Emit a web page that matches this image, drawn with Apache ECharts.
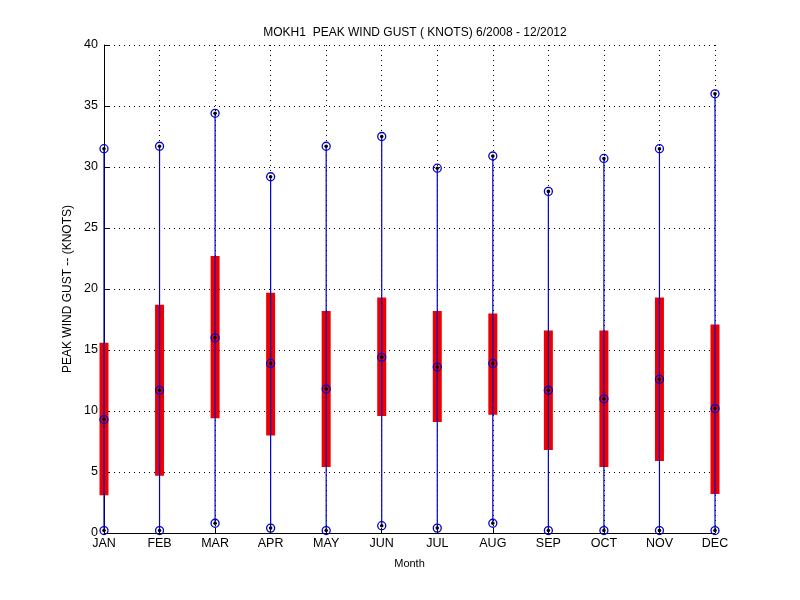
<!DOCTYPE html>
<html>
<head>
<meta charset="utf-8">
<script src="https://cdn.jsdelivr.net/npm/echarts@6/dist/echarts.min.js"></script>
<style>
  html, body { margin: 0; padding: 0; background: #fff; }
  #main { width: 800px; height: 600px; }
</style>
</head>
<body>
<div id="main"></div>
<script>
// monthly peak wind gust stats, knots
var months = ['JAN', 'FEB', 'MAR', 'APR', 'MAY', 'JUN', 'JUL', 'AUG', 'SEP', 'OCT', 'NOV', 'DEC'];
var gustMin = [0.2, 0.2, 0.8, 0.4, 0.2, 0.6, 0.4, 0.8, 0.2, 0.2, 0.2, 0.2];
var gustQ1 = [3.1, 4.7, 9.4, 8.0, 5.4, 9.6, 9.1, 9.7, 6.8, 5.4, 5.9, 3.2];
var gustMedian = [9.3, 11.7, 16.0, 13.9, 11.8, 14.4, 13.6, 13.9, 11.7, 11.0, 12.6, 10.2];
var gustQ3 = [15.6, 18.7, 22.7, 19.7, 18.2, 19.3, 18.2, 18.0, 16.6, 16.6, 19.3, 17.1];
var gustMax = [31.5, 31.7, 34.4, 29.2, 31.7, 32.5, 29.9, 30.9, 28.0, 30.7, 31.5, 36.0];
var yTicks = [0, 5, 10, 15, 20, 25, 30, 35, 40];

var boxData = months.map(function (m, i) {
    return [i, gustMin[i], gustQ1[i], gustMedian[i], gustQ3[i], gustMax[i]];
});

function marker(p) {
    return [
        { type: 'circle', shape: { cx: p[0], cy: p[1], r: 4 },
          style: { fill: 'none', stroke: '#0000cc', lineWidth: 1.3 } },
        { type: 'circle', shape: { cx: p[0], cy: p[1], r: 1.8 },
          style: { fill: '#000000' } }
    ];
}

function renderBox(params, api) {
    var x = api.value(0);
    var pMin = api.coord([x, api.value(1)]);
    var pQ1 = api.coord([x, api.value(2)]);
    var pMed = api.coord([x, api.value(3)]);
    var pQ3 = api.coord([x, api.value(4)]);
    var pMax = api.coord([x, api.value(5)]);
    var w = 9;
    var children = [
        { type: 'rect', shape: { x: pQ1[0] - w / 2, y: pQ3[1], width: w, height: pQ1[1] - pQ3[1] },
          style: { fill: '#ee0000' } },
        { type: 'line', shape: { x1: pMin[0], y1: pMin[1], x2: pMax[0], y2: pMax[1] },
          style: { stroke: '#0000cc', lineWidth: 1.2 } }
    ];
    children = children.concat(marker(pMin), marker(pMed), marker(pMax));
    return { type: 'group', children: children };
}

var chart = echarts.init(document.getElementById('main'));
var option = {
    backgroundColor: '#ffffff',
    animation: false,
    textStyle: { fontFamily: 'Liberation Sans' },
    title: {
        text: 'MOKH1  PEAK WIND GUST ( KNOTS) 6/2008 - 12/2012',
        left: 410,
        top: 22,
        textAlign: 'center',
        textStyle: { fontSize: 12, fontWeight: 'normal', color: '#000', fontFamily: 'Liberation Sans' }
    },
    grid: { left: 104, right: 85, top: 45, bottom: 67 },
    xAxis: {
        type: 'category',
        data: months,
        boundaryGap: false,
        name: 'Month',
        nameLocation: 'middle',
        nameGap: 25,
        nameTextStyle: { fontSize: 11, color: '#000' },
        axisLine: { lineStyle: { color: '#000', width: 1 } },
        axisTick: { inside: true, length: 5, lineStyle: { color: '#000' } },
        axisLabel: { color: '#000', fontSize: 12.5, margin: 4 },
        splitLine: { show: true, lineStyle: { color: '#000', type: [1, 4], width: 1 } }
    },
    yAxis: {
        type: 'value',
        min: yTicks[0],
        max: yTicks[yTicks.length - 1],
        interval: 5,
        name: 'PEAK WIND GUST -- (KNOTS)',
        nameLocation: 'middle',
        nameGap: 22,
        nameTextStyle: { fontSize: 12, color: '#000' },
        axisLine: { show: true, lineStyle: { color: '#000', width: 1 } },
        axisTick: { show: true, inside: true, length: 5, lineStyle: { color: '#000' } },
        axisLabel: { color: '#000', fontSize: 12.5, margin: 6 },
        splitLine: { show: true, lineStyle: { color: '#000', type: [1, 4], width: 1 } }
    },
    series: [{
        type: 'custom',
        clip: false,
        renderItem: renderBox,
        encode: { x: 0, y: [1, 2, 3, 4, 5] },
        data: boxData,
        z: 10
    }]
};
chart.setOption(option);
</script>
</body>
</html>
